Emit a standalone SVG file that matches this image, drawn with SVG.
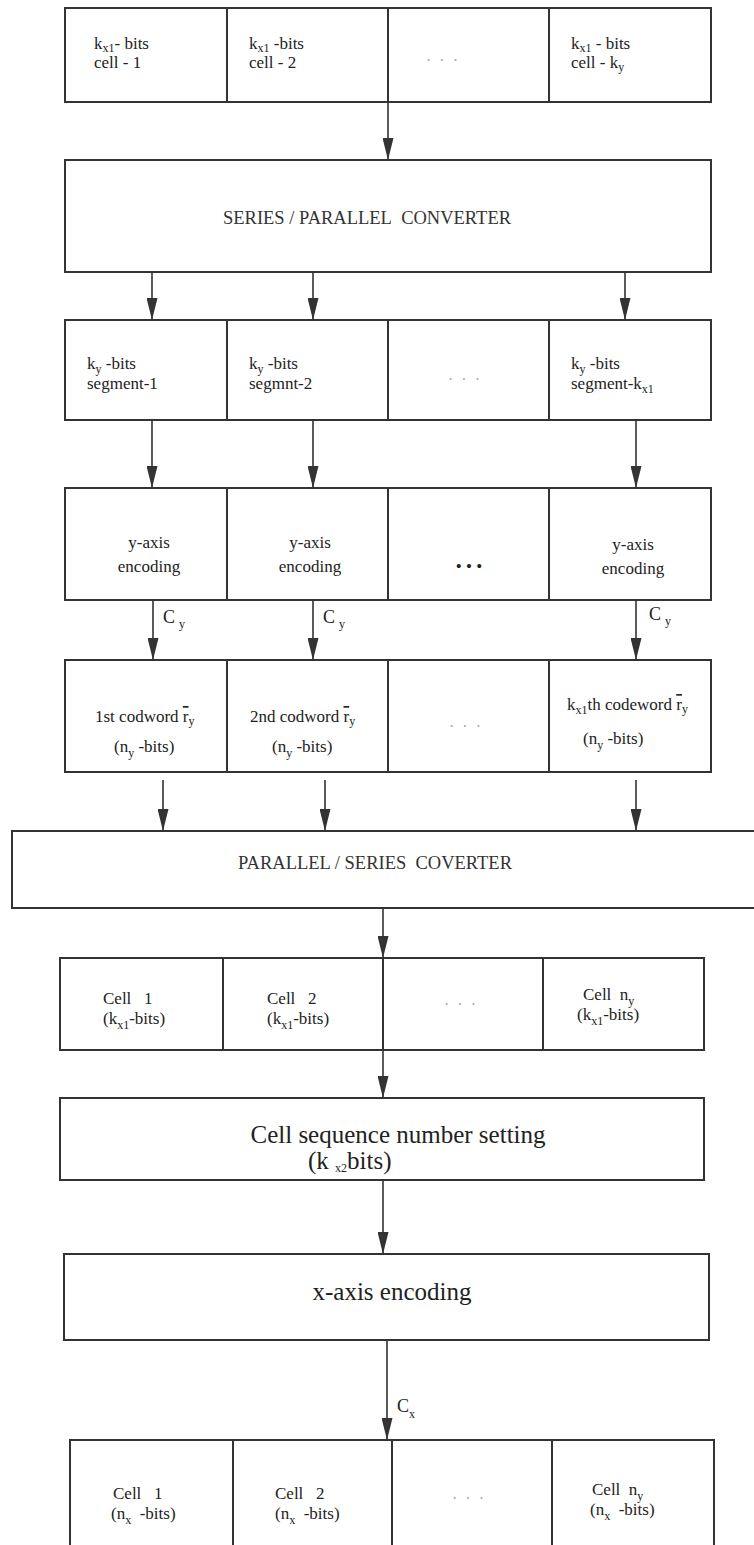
<svg xmlns="http://www.w3.org/2000/svg" width="754" height="1545" viewBox="0 0 754 1545">
<style>
.box{fill:#fff;stroke:#333;stroke-width:2}
.div{stroke:#333;stroke-width:2}
.ln{stroke:#333;stroke-width:1.6;fill:none}
.t{font-family:"Liberation Serif",serif;font-size:17px;fill:#222}
.cap{font-family:"Liberation Serif",serif;font-size:18.5px;fill:#333}
.s{font-size:12px}
.big{font-family:"Liberation Serif",serif;font-size:25px;fill:#222}
.dots{font-family:"Liberation Serif",serif;font-size:16px;fill:#aaa}
.lab{font-family:"Liberation Serif",serif;font-size:18px;fill:#222}
</style>
<defs>
<marker id="ah" viewBox="0 0 22 11" refX="22" refY="5.5" markerWidth="22" markerHeight="11" markerUnits="userSpaceOnUse" orient="auto">
<path d="M0,0 L22,5.5 L0,11 z" fill="#333"/>
</marker>
</defs>
<rect width="754" height="1545" fill="#fff"/>

<g id="connectors">
<line class="ln" x1="388" y1="102" x2="388" y2="160" marker-end="url(#ah)"/>
<line class="ln" x1="152" y1="272" x2="152" y2="320" marker-end="url(#ah)"/>
<line class="ln" x1="313" y1="272" x2="313" y2="320" marker-end="url(#ah)"/>
<line class="ln" x1="625" y1="272" x2="625" y2="320" marker-end="url(#ah)"/>
<line class="ln" x1="152" y1="420" x2="152" y2="488" marker-end="url(#ah)"/>
<line class="ln" x1="313" y1="420" x2="313" y2="488" marker-end="url(#ah)"/>
<line class="ln" x1="636" y1="420" x2="636" y2="488" marker-end="url(#ah)"/>
<line class="ln" x1="153" y1="600" x2="153" y2="660" marker-end="url(#ah)"/>
<line class="ln" x1="313" y1="600" x2="313" y2="660" marker-end="url(#ah)"/>
<line class="ln" x1="636" y1="600" x2="636" y2="660" marker-end="url(#ah)"/>
<line class="ln" x1="163" y1="780" x2="163" y2="831" marker-end="url(#ah)"/>
<line class="ln" x1="325" y1="780" x2="325" y2="831" marker-end="url(#ah)"/>
<line class="ln" x1="636" y1="780" x2="636" y2="831" marker-end="url(#ah)"/>
<line class="ln" x1="383" y1="908" x2="383" y2="958" marker-end="url(#ah)"/>
<line class="ln" x1="383" y1="1050" x2="383" y2="1098" marker-end="url(#ah)"/>
<line class="ln" x1="383" y1="1180" x2="383" y2="1254" marker-end="url(#ah)"/>
<line class="ln" x1="387" y1="1340" x2="387" y2="1440" marker-end="url(#ah)"/>
<text class="lab" x="163" y="623">C<tspan class="s" dy="5" dx="4">y</tspan></text>
<text class="lab" x="323" y="623">C<tspan class="s" dy="5" dx="4">y</tspan></text>
<text class="lab" x="649" y="620">C<tspan class="s" dy="5" dx="4">y</tspan></text>
<text class="lab" x="397" y="1412">C<tspan class="s" dy="6">x</tspan></text>
</g>

<g id="row1">
<rect class="box" x="65" y="8" width="646" height="94"/>
<line class="div" x1="227" y1="8" x2="227" y2="102"/>
<line class="div" x1="388" y1="8" x2="388" y2="102"/>
<line class="div" x1="549" y1="8" x2="549" y2="102"/>
<text class="t" x="94" y="49">k<tspan class="s" dy="3">x1</tspan><tspan dy="-3">- bits</tspan></text>
<text class="t" x="94" y="68">cell - 1</text>
<text class="t" x="249" y="49">k<tspan class="s" dy="3">x1</tspan><tspan dy="-3"> -bits</tspan></text>
<text class="t" x="249" y="68">cell - 2</text>
<text class="dots" x="442" y="66" text-anchor="middle">·&#160; ·&#160; ·</text>
<text class="t" x="571" y="49">k<tspan class="s" dy="3">x1</tspan><tspan dy="-3"> - bits</tspan></text>
<text class="t" x="571" y="68">cell - k<tspan class="s" dy="3">y</tspan></text>
</g>

<g id="sp-converter">
<rect class="box" x="65" y="160" width="646" height="112"/>
<text class="cap" x="367" y="224" text-anchor="middle">SERIES / PARALLEL&#160; CONVERTER</text>
</g>

<g id="row3">
<rect class="box" x="65" y="320" width="646" height="100"/>
<line class="div" x1="227" y1="320" x2="227" y2="420"/>
<line class="div" x1="388" y1="320" x2="388" y2="420"/>
<line class="div" x1="549" y1="320" x2="549" y2="420"/>
<text class="t" x="87" y="369">k<tspan class="s" dy="4">y</tspan><tspan dy="-4"> -bits</tspan></text>
<text class="t" x="87" y="389">segment-1</text>
<text class="t" x="249" y="369">k<tspan class="s" dy="4">y</tspan><tspan dy="-4"> -bits</tspan></text>
<text class="t" x="249" y="389">segmnt-2</text>
<text class="dots" x="464" y="385" text-anchor="middle">·&#160; ·&#160; ·</text>
<text class="t" x="571" y="369">k<tspan class="s" dy="4">y</tspan><tspan dy="-4"> -bits</tspan></text>
<text class="t" x="571" y="389">segment-k<tspan class="s" dy="4">x1</tspan></text>
</g>

<g id="row4">
<rect class="box" x="65" y="488" width="646" height="112"/>
<line class="div" x1="227" y1="488" x2="227" y2="600"/>
<line class="div" x1="388" y1="488" x2="388" y2="600"/>
<line class="div" x1="549" y1="488" x2="549" y2="600"/>
<text class="t" x="149" y="548" text-anchor="middle">y-axis</text>
<text class="t" x="149" y="572" text-anchor="middle">encoding</text>
<text class="t" x="310" y="548" text-anchor="middle">y-axis</text>
<text class="t" x="310" y="572" text-anchor="middle">encoding</text>
<text class="t" x="469" y="572" text-anchor="middle" font-size="13">• • •</text>
<text class="t" x="633" y="550" text-anchor="middle">y-axis</text>
<text class="t" x="633" y="574" text-anchor="middle">encoding</text>
</g>

<g id="row5">
<rect class="box" x="65" y="660" width="646" height="112"/>
<line class="div" x1="227" y1="660" x2="227" y2="772"/>
<line class="div" x1="388" y1="660" x2="388" y2="772"/>
<line class="div" x1="549" y1="660" x2="549" y2="772"/>
<text class="t" x="95" y="722">1st codword <tspan text-decoration="overline">r</tspan><tspan class="s" dy="3">y</tspan></text>
<text class="t" x="114" y="752">(n<tspan class="s" dy="5">y</tspan><tspan dy="-5"> -bits)</tspan></text>
<text class="t" x="250" y="722">2nd codword <tspan text-decoration="overline">r</tspan><tspan class="s" dy="3">y</tspan></text>
<text class="t" x="272" y="752">(n<tspan class="s" dy="5">y</tspan><tspan dy="-5"> -bits)</tspan></text>
<text class="dots" x="465" y="732" text-anchor="middle">·&#160; ·&#160; ·</text>
<text class="t" x="567" y="710">k<tspan class="s" dy="4">x1</tspan><tspan dy="-4">th codeword </tspan><tspan text-decoration="overline">r</tspan><tspan class="s" dy="3">y</tspan></text>
<text class="t" x="583" y="744">(n<tspan class="s" dy="5">y</tspan><tspan dy="-5"> -bits)</tspan></text>
</g>

<g id="ps-converter">
<rect class="box" x="12" y="831" width="760" height="77"/>
<text class="cap" x="375" y="869" text-anchor="middle">PARALLEL / SERIES&#160; COVERTER</text>
</g>

<g id="row7">
<rect class="box" x="60" y="958" width="644" height="92"/>
<line class="div" x1="223" y1="958" x2="223" y2="1050"/>
<line class="div" x1="383" y1="958" x2="383" y2="1050"/>
<line class="div" x1="543" y1="958" x2="543" y2="1050"/>
<text class="t" x="103" y="1004">Cell&#160;&#160; 1</text>
<text class="t" x="103" y="1024">(k<tspan class="s" dy="5">x1</tspan><tspan dy="-5">-bits)</tspan></text>
<text class="t" x="267" y="1004">Cell&#160;&#160; 2</text>
<text class="t" x="267" y="1024">(k<tspan class="s" dy="5">x1</tspan><tspan dy="-5">-bits)</tspan></text>
<text class="dots" x="460" y="1010" text-anchor="middle">·&#160; ·&#160; ·</text>
<text class="t" x="583" y="1000">Cell&#160; n<tspan class="s" dy="5">y</tspan></text>
<text class="t" x="577" y="1020">(k<tspan class="s" dy="5">x1</tspan><tspan dy="-5">-bits)</tspan></text>
</g>

<g id="seq-setting">
<rect class="box" x="60" y="1098" width="644" height="82"/>
<text class="big" x="398" y="1143" text-anchor="middle">Cell sequence number setting</text>
<text class="big" x="308" y="1169">(k <tspan class="s" font-size="15" dy="3">x2</tspan><tspan dy="-3">bits)</tspan></text>
</g>

<g id="x-encoding">
<rect class="box" x="64" y="1254" width="645" height="86"/>
<text class="big" x="392" y="1300" text-anchor="middle">x-axis encoding</text>
</g>

<g id="row10">
<rect class="box" x="70" y="1440" width="644" height="120"/>
<line class="div" x1="233" y1="1440" x2="233" y2="1545"/>
<line class="div" x1="392" y1="1440" x2="392" y2="1545"/>
<line class="div" x1="552" y1="1440" x2="552" y2="1545"/>
<text class="t" x="113" y="1499">Cell&#160;&#160; 1</text>
<text class="t" x="111" y="1519">(n<tspan class="s" dy="5">x</tspan><tspan dy="-5">&#160; -bits)</tspan></text>
<text class="t" x="275" y="1499">Cell&#160;&#160; 2</text>
<text class="t" x="275" y="1519">(n<tspan class="s" dy="5">x</tspan><tspan dy="-5">&#160; -bits)</tspan></text>
<text class="dots" x="468" y="1504" text-anchor="middle">·&#160; ·&#160; ·</text>
<text class="t" x="592" y="1495">Cell&#160; n<tspan class="s" dy="5">y</tspan></text>
<text class="t" x="590" y="1515">(n<tspan class="s" dy="5">x</tspan><tspan dy="-5">&#160; -bits)</tspan></text>
</g>
</svg>
